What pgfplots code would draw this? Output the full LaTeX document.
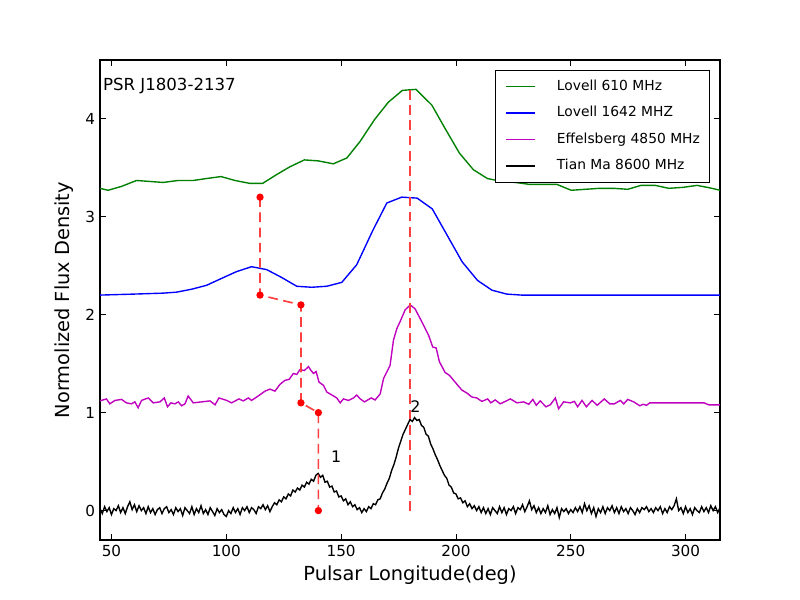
\documentclass[border=0pt]{standalone}
\usepackage{fontspec}
\setmainfont{DejaVu Sans}
\usepackage{pgfplots}
\pgfplotsset{compat=1.18}
\definecolor{mplgreen}{rgb}{0,0.5,0}
\definecolor{mplblue}{rgb}{0,0,1}
\definecolor{mplmag}{rgb}{0.75,0,0.75}
\definecolor{dashred}{rgb}{1,0.25,0.25}
\definecolor{dotred}{rgb}{1,0,0}
\begin{document}
\begin{tikzpicture}
\path[use as bounding box] (0,0) rectangle (8in,6in);
\begin{axis}[
  at={(1in,0.6in)}, anchor=south west,
  scale only axis, width=6.2in, height=4.8in,
  xmin=45, xmax=315, ymin=-0.3, ymax=4.6,
  xtick={50,100,150,200,250,300}, ytick={0,1,2,3,4},
  xtick pos=both, ytick pos=both,
  tick align=inside, major tick length=4pt,
  tick style={black, line width=0.6pt},
  axis line style={black, line width=0.8pt},
  /pgf/number format/assume math mode=true,
  ticklabel style={font=\fontsize{11}{13}\selectfont},
  xlabel={Pulsar Longitude(deg)}, ylabel={Normolized Flux Density},
  label style={font=\fontsize{14}{16}\selectfont},
  ylabel style={yshift=2pt},
  legend cell align=left,
  legend image code/.code={\draw[#1, line width=1.1pt] (0pt,0pt) -- (21pt,0pt);},
  legend style={at={(rel axis cs:1,1)}, anchor=north east, xshift=-7.2pt, yshift=-7.2pt,
    draw=black, line width=0.7pt, fill=white,
    font=\fontsize{10}{12}\selectfont, inner xsep=7pt, inner ysep=7pt,
    row sep=9.6pt, column sep=15pt,
    nodes={inner sep=0pt, text height=7.5pt, text depth=2pt}},
]
% Lovell 610 MHz
\addplot[color=mplgreen, line width=1pt] coordinates {
(45,3.29) (48.5,3.27) (54.4,3.31) (60.9,3.37) (66.7,3.36) (72.5,3.35) (79,3.37) (85.6,3.37) (91.4,3.39) (97.7,3.41) (103.8,3.37) (110.3,3.34) (115.8,3.34) (121.9,3.43) (127.7,3.51) (134,3.58) (140.1,3.57) (146.6,3.54) (152.5,3.60) (158.3,3.77) (164.5,3.99) (170.6,4.17) (176.7,4.29) (182.6,4.30) (189.5,4.14) (195.3,3.90) (201.5,3.65) (207.6,3.48) (213.7,3.39) (220,3.36) (225.8,3.35) (232.1,3.33) (238.2,3.33) (244,3.33) (250.2,3.27) (256.3,3.28) (262.6,3.29) (268.7,3.29) (274.8,3.28) (280.6,3.32) (286.8,3.32) (292.7,3.29) (298.9,3.30) (305,3.32) (311.5,3.29) (315,3.27)
};
\addlegendentry{Lovell 610 MHz}
% Lovell 1642 MHz
\addplot[color=mplblue, line width=1pt] coordinates {
(45,2.20) (52,2.205) (59.4,2.21) (66,2.215) (72.5,2.22) (78.3,2.23) (84.9,2.26) (91.4,2.30) (97.9,2.37) (104.5,2.44) (111,2.49) (117.6,2.46) (124.1,2.38) (130.7,2.29) (137.2,2.28) (143.7,2.29) (150.3,2.33) (156.8,2.51) (163.8,2.86) (169.9,3.14) (176.4,3.20) (183.1,3.19) (189.7,3.08) (196.2,2.81) (202.7,2.54) (209.4,2.35) (215.7,2.25) (222.2,2.21) (228.7,2.20) (235,2.20) (241.5,2.20) (248,2.20) (254.5,2.20) (261,2.20) (267.5,2.20) (274,2.20) (280.5,2.20) (287,2.20) (293.5,2.20) (300,2.20) (306.5,2.20) (313,2.20) (315,2.20)
};
\addlegendentry{Lovell 1642 MHZ}
% Effelsberg 4850 MHz
\addplot[color=mplmag, line width=1pt] coordinates {
(45,1.12) (45.6,1.125) (47.8,1.14) (49.3,1.09) (51.5,1.125) (54.4,1.135) (56.5,1.10) (58.7,1.09) (60.2,1.11) (61.6,1.05) (63.1,1.125) (66.0,1.15) (68.2,1.10) (71.1,1.11) (73.0,1.15) (74.4,1.06) (75.9,1.10) (77.6,1.09) (79.1,1.11) (80.5,1.07) (82.0,1.09) (83.4,1.17) (85.6,1.10) (89.3,1.11) (92.9,1.12) (95.1,1.08) (96.8,1.15) (100.2,1.125) (102.3,1.10) (105.5,1.14) (107.4,1.12) (109.6,1.15) (111.0,1.125) (113.9,1.17) (116.9,1.22) (119.0,1.24) (121.2,1.22) (123.4,1.29) (125.6,1.33) (127.4,1.34) (129.2,1.40) (130.7,1.39) (132.1,1.44) (134.0,1.43) (135.8,1.47) (136.9,1.43) (138.0,1.40) (139.1,1.42) (140.4,1.31) (142.3,1.28) (143.8,1.21) (146.0,1.18) (148.1,1.15) (149.6,1.10) (151.0,1.14) (153.2,1.125) (155.4,1.15) (156.8,1.18) (158.3,1.14) (160.2,1.11) (163.1,1.15) (164.8,1.13) (167.0,1.19) (168.5,1.35) (171.3,1.48) (172.8,1.74) (174.3,1.86) (175.7,1.93) (177.9,2.05) (180.1,2.10) (182.2,2.06) (185.1,1.93) (188.1,1.79) (189.9,1.67) (191.4,1.66) (192.8,1.52) (195.3,1.41) (197.2,1.38) (199.7,1.31) (202.6,1.23) (204.8,1.20) (206.9,1.16) (209.1,1.15) (211.3,1.115) (213.8,1.14) (215.2,1.10) (217.1,1.13) (219.3,1.09) (221.5,1.115) (223.7,1.14) (226.6,1.10) (229.5,1.11) (231.7,1.085) (233.5,1.135) (235.0,1.075) (236.7,1.12) (239.2,1.06) (241.1,1.08) (243.3,1.15) (244.7,1.04) (246.9,1.11) (249.8,1.10) (251.6,1.115) (253.0,1.06) (254.9,1.125) (256.8,1.06) (259.3,1.125) (261.5,1.075) (264.6,1.14) (267.0,1.09) (269.0,1.09) (271.6,1.125) (273.1,1.09) (274.8,1.135) (277.4,1.11) (280.1,1.07) (281.5,1.085) (283.0,1.075) (284.4,1.10) (308.0,1.10) (310.1,1.08) (315,1.08)
};
\addlegendentry{Effelsberg 4850 MHz}
% Tian Ma 8600 MHz
\addplot[color=black, line width=1pt] coordinates {
(45,0.02) (46,-0.03) (47,0.04) (48,-0.01) (49,0.03) (50,-0.04) (51,0.02) (52,0.00) (53,0.05) (54,-0.02)
(55,0.03) (56,-0.03) (57,0.04) (58,0.09) (59,0.01) (60,0.06) (61,-0.01) (62,0.05) (63,0.00) (64,0.03)
(65,-0.03) (66,0.04) (67,-0.02) (68,0.02) (69,-0.04) (70,0.01) (71,0.03) (72,-0.03) (73,0.02) (74,0.04)
(75,-0.02) (76,0.01) (77,-0.04) (78,0.03) (79,-0.01) (80,0.02) (81,-0.05) (82,0.03) (83,0.00) (84,-0.03)
(85,0.04) (86,-0.04) (87,0.02) (88,-0.02) (89,0.05) (90,-0.03) (91,0.01) (92,-0.04) (93,0.03) (94,-0.01)
(95,-0.05) (96,0.02) (97,-0.02) (98,0.01) (99,-0.04) (100,-0.06) (101,0.00) (102,-0.03) (103,0.03) (104,-0.02)
(105,0.02) (106,-0.04) (107,0.03) (108,0.00) (109,0.04) (110,-0.02) (111,0.03) (112,0.01) (113,-0.03) (114,0.04)
(115,0.02) (116,0.06) (117,0.01) (118,0.05) (119,-0.01) (120,0.04) (121,0.08) (122,0.06) (123,0.11) (124,0.09)
(125,0.14) (126,0.12) (127,0.17) (128,0.15) (129,0.21) (130,0.19) (131,0.23) (132,0.21) (133,0.26) (134,0.24)
(135,0.29) (136,0.27) (137,0.32) (138,0.30) (139,0.36) (140,0.38) (141,0.34) (142,0.36) (143,0.29) (144,0.30)
(145,0.24) (146,0.25) (147,0.19) (148,0.20) (149,0.14) (150,0.15) (151,0.10) (152,0.12) (153,0.06) (154,0.09)
(155,0.04) (156,0.06) (157,0.01) (158,0.03) (159,-0.02) (160,0.02) (161,-0.01) (162,0.04) (163,0.02) (164,0.07)
(165,0.06) (166,0.11) (167,0.12) (168,0.18) (169,0.22) (170,0.28) (171,0.33) (172,0.41) (173,0.47) (174,0.55)
(175,0.64) (176,0.71) (177,0.78) (178,0.83) (179,0.88) (180,0.93) (181,0.91) (182,0.95) (183,0.92) (184,0.93)
(185,0.87) (186,0.85) (187,0.78) (188,0.76) (189,0.68) (190,0.63) (191,0.57) (192,0.52) (193,0.46) (194,0.41)
(195,0.36) (196,0.33) (197,0.26) (198,0.24) (199,0.18) (200,0.17) (201,0.12) (202,0.13) (203,0.08) (204,0.10)
(205,0.04) (206,0.07) (207,0.02) (208,0.05) (209,0.00) (210,0.04) (211,-0.02) (212,0.03) (213,-0.03) (214,0.02)
(215,-0.04) (216,0.03) (217,0.00) (218,-0.03) (219,0.04) (220,-0.02) (221,0.03) (222,-0.04) (223,0.02) (224,0.00)
(225,0.04) (226,-0.03) (227,0.03) (228,0.01) (229,0.06) (230,-0.01) (231,0.04) (232,0.10) (233,0.01) (234,0.05)
(235,-0.02) (236,0.03) (237,-0.03) (238,0.02) (239,-0.02) (240,0.05) (241,-0.04) (242,0.01) (243,-0.03) (244,0.03)
(245,-0.07) (246,0.02) (247,-0.01) (248,0.02) (249,-0.03) (250,0.01) (251,-0.02) (252,0.03) (253,-0.01) (254,0.04)
(255,-0.02) (256,0.07) (257,0.00) (258,0.05) (259,-0.03) (260,0.03) (261,-0.06) (262,0.02) (263,-0.02) (264,0.04)
(265,-0.03) (266,0.03) (267,0.00) (268,0.05) (269,-0.02) (270,0.03) (271,-0.03) (272,0.04) (273,-0.01) (274,0.02)
(275,-0.03) (276,0.03) (277,0.00) (278,-0.04) (279,0.02) (280,-0.02) (281,0.03) (282,0.01) (283,0.04) (284,-0.01)
(285,0.02) (286,-0.02) (287,0.03) (288,0.00) (289,0.04) (290,-0.03) (291,0.02) (292,-0.02) (293,0.04) (294,0.01)
(295,0.05) (296,0.12) (297,0.00) (298,0.03) (299,-0.03) (300,0.04) (301,-0.02) (302,0.02) (303,-0.04) (304,0.03)
(305,0.00) (306,-0.02) (307,0.04) (308,-0.01) (309,0.03) (310,-0.02) (311,0.05) (312,0.00) (313,0.04) (314,-0.02)
(315,0.03)
};
\addlegendentry{Tian Ma 8600 MHz}
% red dashed guides
\addplot[forget plot, dashred, line width=1.2pt, dash pattern=on 7pt off 4pt] coordinates {(180,0) (180,4.29)};
\addplot[forget plot, dashred, line width=1.2pt, dash pattern=on 7pt off 4pt,
  mark=*, mark size=2pt, mark options={solid, fill=dotred, draw=dotred}] coordinates {
(114.7,3.2) (114.7,2.2) (132.5,2.1) (132.5,1.1) (140.1,1.0) (140.1,0.0)
};
\node[anchor=base west, font=\fontsize{12}{14}\selectfont, inner sep=0pt] at (axis cs:46.2,4.29) {PSR J1803-2137};
\node[anchor=base west, font=\fontsize{11.5}{13}\selectfont, inner sep=0pt] at (axis cs:145.5,0.49) {1};
\node[anchor=base west, font=\fontsize{11.5}{13}\selectfont, inner sep=0pt] at (axis cs:180,1.0) {2};
\end{axis}
\end{tikzpicture}
\end{document}
